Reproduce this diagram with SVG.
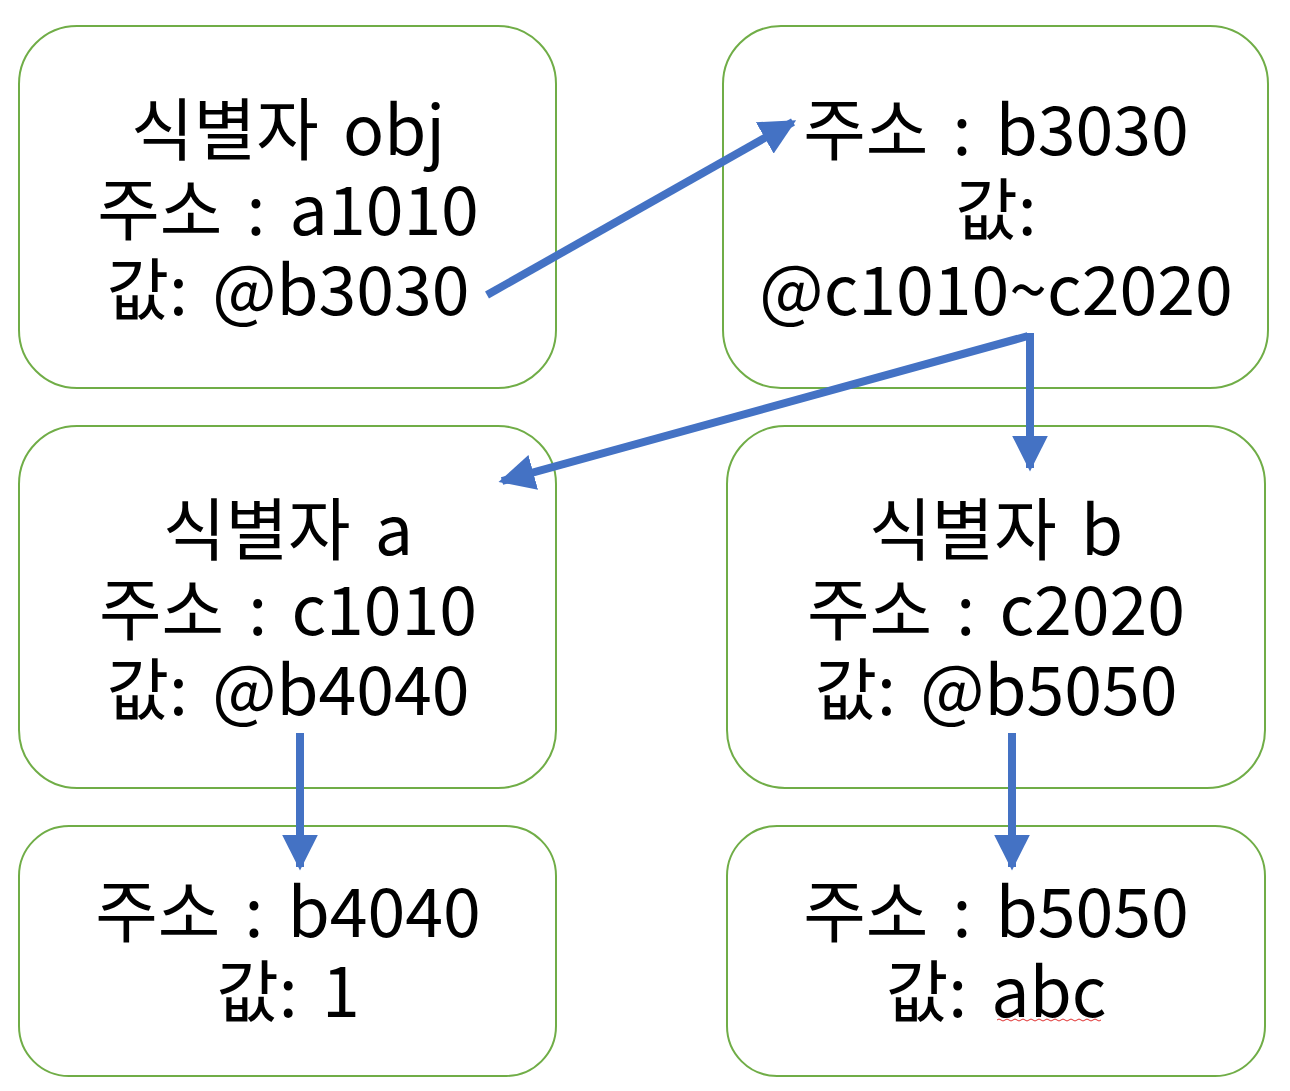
<svg xmlns="http://www.w3.org/2000/svg" width="1290" height="1091" viewBox="0 0 1290 1091">
<defs>
<style>
.box{fill:#fff;stroke:#70AD47;stroke-width:2}
.t{font-family:"Noto Sans CJK KR","Noto Sans",sans-serif;font-size:68px;word-spacing:9px;fill:#000;text-anchor:middle}
.c{fill:none;stroke:#4472C4;stroke-width:8}
</style>
<marker id="ah" viewBox="0 0 10 10" refX="9" refY="5" markerWidth="4.5" markerHeight="4.5" orient="auto" markerUnits="strokeWidth">
<path d="M0,0 L10,5 L0,10 z" fill="#4472C4"/>
</marker>
</defs>
<rect width="1290" height="1091" fill="#fff"/>
<g id="n-obj"><rect class="box" x="19" y="26" width="537" height="362" rx="58"/>
<text class="t" x="288" y="155">식별자 obj</text><text class="t" x="288" y="235">주소 : a1010</text><text class="t" x="288" y="315">값: @b3030</text></g>
<g id="n-b3030"><rect class="box" x="723" y="26" width="545" height="362" rx="58"/>
<text class="t" x="996" y="155">주소 : b3030</text><text class="t" x="996" y="235">값:</text><text class="t" x="996" y="315">@c1010~c2020</text></g>
<g id="n-a"><rect class="box" x="19" y="426" width="537" height="362" rx="58"/>
<text class="t" x="288" y="555">식별자 a</text><text class="t" x="288" y="635">주소 : c1010</text><text class="t" x="288" y="715">값: @b4040</text></g>
<g id="n-b"><rect class="box" x="727" y="426" width="538" height="362" rx="58"/>
<text class="t" x="996" y="555">식별자 b</text><text class="t" x="996" y="635">주소 : c2020</text><text class="t" x="996" y="715">값: @b5050</text></g>
<g id="n-b4040"><rect class="box" x="19" y="826" width="537" height="250" rx="50"/>
<text class="t" x="288" y="937">주소 : b4040</text><text class="t" x="288" y="1017">값: 1</text></g>
<g id="n-b5050"><rect class="box" x="727" y="826" width="538" height="250" rx="50"/>
<text class="t" x="996" y="937">주소 : b5050</text><text class="t" x="996" y="1017">값: abc</text>
<path d="M997,1020 q2,-2 4,0 t4,0 t4,0 t4,0 t4,0 t4,0 t4,0 t4,0 t4,0 t4,0 t4,0 t4,0 t4,0 t4,0 t4,0 t4,0 t4,0 t4,0 t4,0 t4,0 t4,0 t4,0 t4,0 t4,0 t4,0 t4,0" fill="none" stroke="#e03030" stroke-width="1"/></g>
<g id="connectors">
<path class="c" d="M487,295 L793,122" marker-end="url(#ah)"/>
<path class="c" d="M1028,336 L502,481" marker-end="url(#ah)"/>
<path class="c" d="M1030,333 L1030,468" marker-end="url(#ah)"/>
<path class="c" d="M300,733 L300,867" marker-end="url(#ah)"/>
<path class="c" d="M1012,733 L1012,867" marker-end="url(#ah)"/>
</g>
</svg>
